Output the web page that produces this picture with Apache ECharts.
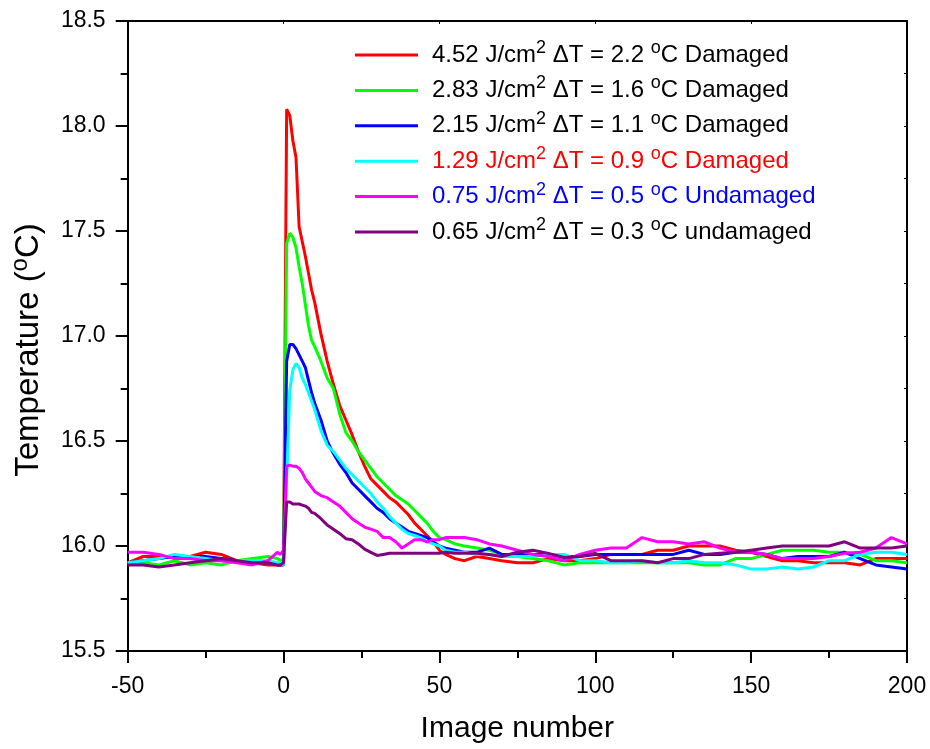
<!DOCTYPE html>
<html>
<head>
<meta charset="utf-8">
<script src="https://cdn.jsdelivr.net/npm/echarts@6/dist/echarts.min.js"></script>
<style>
html,body{margin:0;padding:0;background:#fff;}
#chart{width:930px;height:749px;}
</style>
</head>
<body>
<div id="chart"></div>
<script>
// ---- data ----
const imageNumber = [-50,-45,-40,-35,-30,-25,-20,-15,-10,-5,-2,-1,0,
  1,2,3,4,5,6,7,8,9,10,12,14,16,18,20,
  22,24,26,28,30,32,34,36,38,40,42,44,46,48,50,52,55,58,
  62,66,70,75,80,85,90,95,100,105,110,115,120,125,130,135,140,145,150,155,160,165,170,175,180,185,190,195,200];

const temp452 = [15.92,15.95,15.95,15.95,15.95,15.97,15.96,15.93,15.92,15.91,15.91,15.91,15.92,
  18.08,18.05,17.93,17.85,17.52,17.45,17.38,17.30,17.22,17.16,17.01,16.88,16.77,16.67,16.60,
  16.53,16.45,16.38,16.32,16.29,16.26,16.23,16.21,16.18,16.15,16.11,16.08,16.05,16.02,15.98,15.96,15.94,15.93,
  15.95,15.94,15.93,15.92,15.92,15.94,15.93,15.93,15.94,15.96,15.96,15.96,15.98,15.98,16.00,16.00,16.00,15.98,15.97,15.95,15.93,15.93,15.92,15.92,15.92,15.91,15.94,15.94,15.94];

const temp283 = [15.92,15.92,15.91,15.93,15.91,15.92,15.91,15.93,15.94,15.95,15.94,15.93,15.94,
  17.44,17.49,17.47,17.42,17.33,17.25,17.15,17.05,16.98,16.95,16.88,16.80,16.75,16.63,16.54,
  16.50,16.45,16.41,16.37,16.33,16.30,16.27,16.24,16.22,16.20,16.17,16.14,16.11,16.07,16.04,16.03,16.01,16.00,
  15.99,15.98,15.96,15.95,15.94,15.93,15.91,15.92,15.92,15.92,15.92,15.92,15.92,15.92,15.92,15.91,15.91,15.94,15.94,15.96,15.98,15.98,15.98,15.97,15.97,15.96,15.93,15.93,15.92];

const temp215 = [15.92,15.93,15.94,15.95,15.95,15.95,15.94,15.93,15.92,15.92,15.91,15.91,15.91,
  16.88,16.96,16.96,16.94,16.91,16.88,16.85,16.79,16.73,16.68,16.60,16.50,16.44,16.39,16.35,
  16.30,16.27,16.24,16.21,16.18,16.16,16.13,16.11,16.09,16.07,16.06,16.05,16.04,16.02,16.00,15.99,15.98,15.97,
  15.97,15.99,15.96,15.96,15.96,15.96,15.95,15.95,15.96,15.96,15.96,15.96,15.96,15.96,15.98,15.96,15.96,15.97,15.97,15.96,15.94,15.95,15.95,15.95,15.97,15.94,15.91,15.90,15.89];

const temp129 = [15.92,15.93,15.94,15.96,15.95,15.94,15.93,15.93,15.93,15.93,15.92,15.92,15.91,
  16.30,16.74,16.84,16.87,16.85,16.80,16.77,16.73,16.69,16.65,16.55,16.48,16.45,16.41,16.37,
  16.34,16.31,16.28,16.25,16.21,16.18,16.14,16.11,16.08,16.06,16.05,16.04,16.02,16.01,16.00,15.98,15.97,15.97,
  15.96,15.96,15.95,15.95,15.95,15.96,15.96,15.93,15.93,15.92,15.92,15.93,15.92,15.92,15.93,15.92,15.92,15.91,15.89,15.89,15.90,15.89,15.90,15.93,15.93,15.96,15.97,15.97,15.96];

const temp075 = [15.97,15.97,15.96,15.94,15.94,15.93,15.93,15.92,15.91,15.93,15.97,15.96,15.98,
  16.38,16.385,16.38,16.38,16.37,16.35,16.32,16.30,16.28,16.26,16.24,16.23,16.21,16.19,16.16,
  16.13,16.11,16.09,16.08,16.07,16.04,16.04,16.02,15.99,16.01,16.03,16.03,16.02,16.03,16.03,16.04,16.04,16.04,
  16.03,16.01,16.00,15.98,15.96,15.95,15.93,15.96,15.98,15.99,15.99,16.04,16.02,16.02,16.01,16.02,15.99,15.97,15.97,15.96,15.94,15.94,15.94,15.95,15.965,15.97,15.99,16.04,16.01];

const temp065 = [15.91,15.91,15.90,15.91,15.92,15.93,15.94,15.93,15.92,15.92,15.91,15.91,15.92,
  16.21,16.21,16.20,16.20,16.20,16.195,16.19,16.18,16.16,16.155,16.13,16.10,16.08,16.06,16.035,
  16.03,16.01,15.985,15.97,15.955,15.96,15.965,15.965,15.965,15.965,15.965,15.965,15.965,15.965,15.965,15.97,15.965,15.965,
  15.965,15.96,15.95,15.97,15.98,15.965,15.945,15.95,15.965,15.93,15.93,15.93,15.92,15.94,15.94,15.96,15.965,15.97,15.98,15.99,16.00,16.00,16.00,16.00,16.02,15.99,15.99,15.99,16.00];

const fluences = ['4.52','2.83','2.15','1.29','0.75','0.65'];
const deltaTs = ['2.2','1.6','1.1','0.9','0.5','0.3'];
const outcomes = ['Damaged','Damaged','Damaged','Damaged','Undamaged','undamaged'];
const seriesValues = [temp452, temp283, temp215, temp129, temp075, temp065];
const lineColors = ['#ff0000','#00ff00','#0000ff','#00ffff','#ff00ff','#800080'];
const labelColors = ['#000000','#000000','#000000','#ff0000','#0000ff','#000000'];

const yTicks = {min: 15.5, max: 18.5, interval: 0.5};
const xTicks = {min: -50, max: 200, interval: 50};

// ---- chart ----
const FONT = '"Liberation Sans", Arial, Helvetica, sans-serif';
const names = fluences.map((f, i) => f + ' J/cm2 dT = ' + deltaTs[i] + ' C ' + outcomes[i]);
const richLabel = (i) => '{gap|}{t|' + fluences[i] + ' J/cm}{sup|2}{t| \u0394T = ' + deltaTs[i] + ' }{sup|o}{t|C ' + outcomes[i] + '}';

const chart = echarts.init(document.getElementById('chart'), null, {renderer: 'canvas'});
const series = seriesValues.map((vals, i) => ({
  name: names[i],
  type: 'line',
  data: imageNumber.map((x, k) => [x, vals[k]]),
  showSymbol: false,
  symbol: 'none',
  lineStyle: {color: lineColors[i], width: 3},
  itemStyle: {color: lineColors[i]},
  emphasis: {disabled: true},
  z: 2 + i
}));

const axisLine = {show: true, onZero: false, lineStyle: {color: '#000', width: 2}};
chart.setOption({
  animation: false,
  backgroundColor: '#fff',
  textStyle: {fontFamily: FONT},
  grid: {left: 125, right: 23, top: 21, bottom: 98, containLabel: false},
  legend: {
    orient: 'vertical',
    left: 355,
    top: 39,
    padding: 0,
    itemWidth: 63,
    itemHeight: 3,
    itemGap: 3.4,
    icon: 'rect',
    selectedMode: false,
    data: names.map((n, i) => ({name: n, textStyle: {color: labelColors[i]}})),
    formatter: (name) => richLabel(names.indexOf(name)),
    textStyle: {
      fontFamily: FONT,
      fontSize: 24,
      rich: {
        gap: {width: 9, fontSize: 24, lineHeight: 26},
        t: {fontSize: 24, lineHeight: 26, fontFamily: FONT},
        sup: {fontSize: 18, lineHeight: 12, padding: [0, 0, 14, 0], fontFamily: FONT}
      }
    }
  },
  xAxis: [{
    type: 'value',
    min: xTicks.min, max: xTicks.max, interval: xTicks.interval,
    name: 'Image number',
    nameLocation: 'middle',
    nameGap: 63,
    nameTextStyle: {fontSize: 30, color: '#000', fontFamily: FONT},
    axisLine: axisLine,
    axisTick: {show: true, inside: false, length: 12, lineStyle: {color: '#000', width: 2}},
    minorTick: {show: true, splitNumber: 2, length: 7, lineStyle: {color: '#000', width: 2}},
    axisLabel: {fontSize: 23, color: '#000', margin: 24, fontFamily: FONT},
    splitLine: {show: false}
  }, {
    type: 'value', position: 'top',
    min: xTicks.min, max: xTicks.max, interval: xTicks.interval,
    axisLine: axisLine,
    axisTick: {show: true, inside: true, length: 3, lineStyle: {color: '#000', width: 1}},
    axisLabel: {show: false},
    splitLine: {show: false}
  }],
  yAxis: [{
    type: 'value',
    min: yTicks.min, max: yTicks.max, interval: yTicks.interval,
    name: 'Temperature ({sup|o}C)',
    nameLocation: 'middle',
    nameGap: 78,
    nameRotate: 90,
    nameTextStyle: {fontSize: 33, lineHeight: 34, color: '#000', fontFamily: FONT,
      padding: [0, 28, 0, 0],
      rich: {sup: {fontSize: 24, lineHeight: 16, padding: [0, 0, 18, 0], color: '#000', fontFamily: FONT}}},
    axisLine: axisLine,
    axisTick: {show: true, inside: false, length: 12, lineStyle: {color: '#000', width: 2}},
    minorTick: {show: true, splitNumber: 2, length: 7, lineStyle: {color: '#000', width: 2}},
    axisLabel: {fontSize: 23, color: '#000', margin: 22, fontFamily: FONT, formatter: (v) => v.toFixed(1)},
    splitLine: {show: false}
  }, {
    type: 'value', position: 'right',
    min: yTicks.min, max: yTicks.max, interval: yTicks.interval,
    axisLine: axisLine,
    axisTick: {show: true, inside: true, length: 3, lineStyle: {color: '#000', width: 1}},
    minorTick: {show: true, splitNumber: 2, length: 3, lineStyle: {color: '#000', width: 1}},
    axisLabel: {show: false},
    splitLine: {show: false}
  }],
  series: series
});
</script>
</body>
</html>
